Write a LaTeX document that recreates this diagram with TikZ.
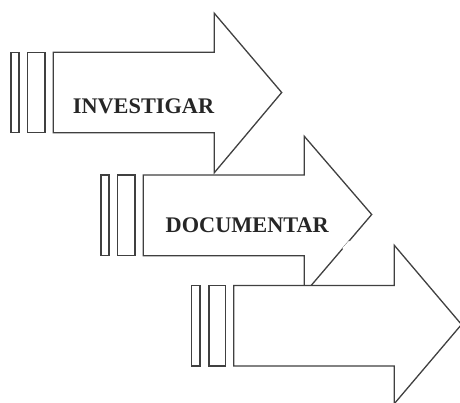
\documentclass[tikz,border=0pt]{standalone}
\usepackage{fontspec}
\setmainfont{Liberation Serif}
\begin{document}
\begin{tikzpicture}[x=1pt,y=-1pt,
  shape line/.style={draw=black!75, line width=1.3pt, fill=white, line join=miter},
  label text/.style={font=\fontsize{22.3}{24}\selectfont\bfseries, text=black!85, inner sep=0pt}]
\useasboundingbox (0,0) rectangle (460,402);
% Arrow 1
\draw[shape line] (11,52.3) rectangle (19,132.7);
\draw[shape line] (27.7,52.3) rectangle (45,132.7);
\draw[shape line] (53.3,52.3) -- (214.3,52.3) -- (214.3,13.3) -- (281.7,92.5) -- (214.3,172.7) -- (214.3,132.7) -- (53.3,132.7) -- cycle;
\node[label text] (investigar) at (143.5,105.8) {INVESTIGAR};
% Arrow 2
\draw[shape line] (101,175) rectangle (109,255.7);
\draw[shape line] (117.7,175) rectangle (135,255.7);
\draw[shape line] (143.3,175) -- (304.3,175) -- (304.3,136.3) -- (371.7,214.5) -- (304.3,293.5) -- (304.3,255.7) -- (143.3,255.7) -- cycle;
\node[label text] (documentar) at (247.3,225.5) {DOCUMENTAR};
\coordinate (gapa) at (343.3,249);
\coordinate (gapb) at (350,241.5);
\draw[white, line width=2.5pt] (gapa) -- (gapb);
% Arrow 3
\draw[shape line] (191.3,285.5) rectangle (200,366);
\draw[shape line] (209,285.5) rectangle (225.3,366);
\draw[shape line] (233.7,285.5) -- (394.3,285.5) -- (394.3,245.3) -- (461.5,324.5) -- (394.3,403.7) -- (394.3,366) -- (233.7,366) -- cycle;
\end{tikzpicture}
\end{document}
